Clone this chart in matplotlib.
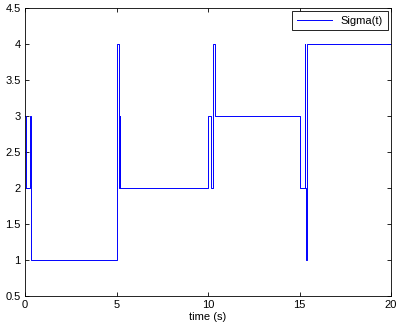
import matplotlib
matplotlib.use("Agg")
import matplotlib.pyplot as plt

plt.rcParams['font.family'] = ['Liberation Sans', 'DejaVu Sans']

# switching instants (s) and mode value held from each instant on
t_switch = [0.0, 0.03, 0.28, 0.33, 5.05, 5.13, 5.18, 5.21,
            10.0, 10.18, 10.25, 10.38, 15.05, 15.28, 15.32, 15.38, 15.43, 20.0]
sigma = [3, 2, 3, 1, 4, 2, 3, 2,
         3, 2, 4, 3, 2, 4, 2, 1, 4, 4]

xticks = [0, 5, 10, 15, 20]
yticks = [0.5, 1, 1.5, 2, 2.5, 3, 3.5, 4, 4.5]
yticklabels = ['0.5', '1', '1.5', '2', '2.5', '3', '3.5', '4', '4.5']

fig = plt.figure(figsize=(3.96, 3.26), dpi=100)
ax = fig.add_axes([25/396, 30/326, 366/396, 288/326])
ax.plot(t_switch, sigma, drawstyle='steps-post', color='#0000ff', lw=0.7, label='Sigma(t)')
ax.set_xlim(0, 20)
ax.set_ylim(0.5, 4.5)
ax.set_xticks(xticks)
ax.set_yticks(yticks)
ax.set_yticklabels(yticklabels)
ax.tick_params(direction='in', top=True, right=True, labelsize=8, length=3, width=0.6, pad=3)
for s in ax.spines.values():
    s.set_linewidth(0.6)
ax.set_xlabel('time (s)', fontsize=8, labelpad=1)
leg = ax.legend(loc='upper right', fontsize=8, fancybox=False, edgecolor='black',
                framealpha=1, borderaxespad=0.3, handlelength=3.2)
leg.get_frame().set_linewidth(0.6)
fig.savefig('out.png', dpi=100)
